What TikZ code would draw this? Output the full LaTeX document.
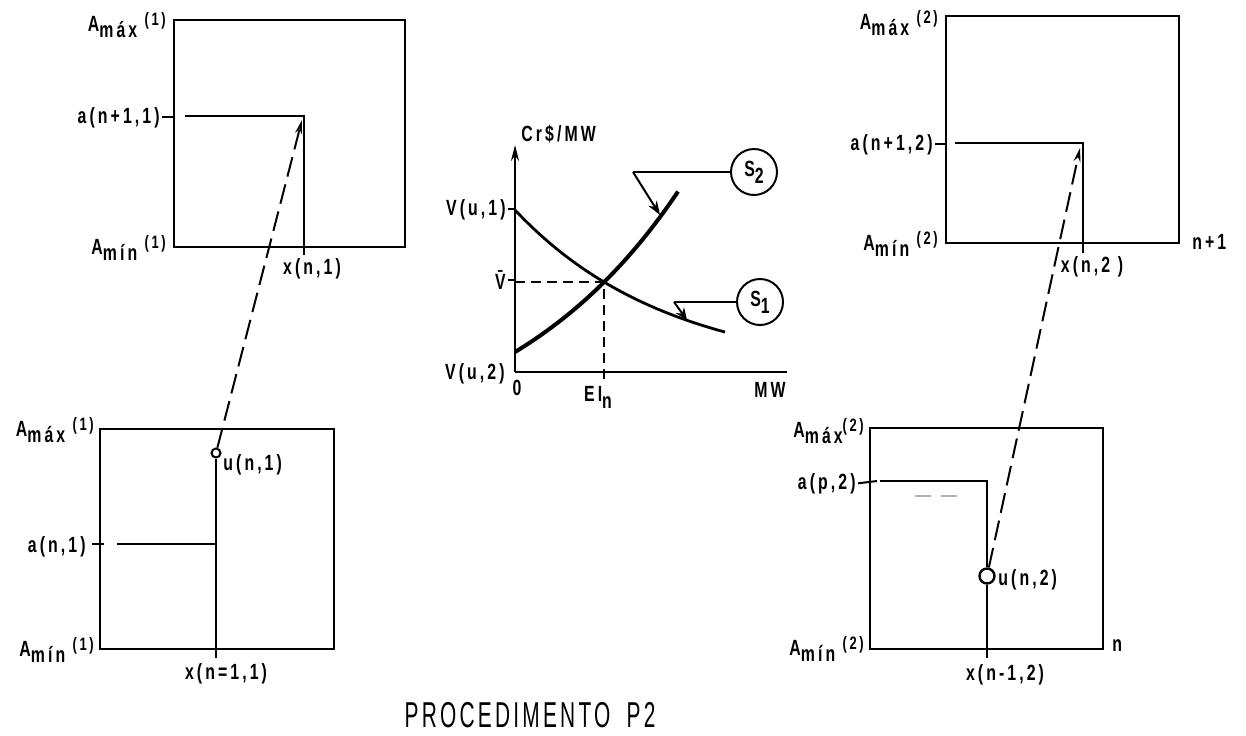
\documentclass[tikz,border=0pt]{standalone}
\usepackage{fontspec}
\setmainfont{Liberation Sans}[FakeStretch=0.72, LetterSpace=14]
\newfontfamily\titlefont{Liberation Sans}[FakeStretch=0.58, LetterSpace=9]
\usetikzlibrary{calc, positioning}
\usetikzlibrary{arrows.meta}
\newcommand{\subtxt}[1]{\raisebox{-0.6ex}{#1}}
\newcommand{\suptxt}[1]{\raisebox{0.45ex}{\small #1}}

\begin{document}
\begin{tikzpicture}[x=0.5pt, y=-0.5pt, font=\bfseries\fontsize{11}{13}\selectfont,
  box/.style={line width=1.2pt},
  ln/.style={line width=1pt},
  jump/.style={line width=1pt, dash pattern=on 10pt off 4pt, -{Stealth[length=7pt, width=3.5pt]}},
  guide/.style={line width=0.9pt, dash pattern=on 5pt off 3pt},
  lab/.style={anchor=base east, inner sep=1pt},
  ring/.style={circle, draw, line width=1pt, inner sep=0pt}]
\useasboundingbox (0,0) rectangle (1246,735);

% caixa (1), estagio n+1
\coordinate (A1) at (174,20);
\coordinate (B1) at (405,247);
\coordinate (H1) at (185,116);
\coordinate (T1) at (304,116);
\coordinate (X1) at (304,255);
\draw[box] (A1) rectangle (B1);
\draw[ln] (H1) -- (T1) -- (X1);
\node[lab] (amax1) at (168,31) {A\subtxt{máx} \suptxt{(1)}};
\node[lab] (anext1) at (162,123) {a(n+1,1)};
\draw[ln] (anext1.east) -- (anext1.east -| A1);
\node[lab] (amin1) at (168,254) {A\subtxt{mín} \suptxt{(1)}};
\node[anchor=north, inner sep=1pt] (xn1) at (312,256) {x(n,1)};

% caixa (1), estagio n
\coordinate (A2) at (100,429);
\coordinate (B2) at (334,649);
\coordinate (H2) at (117,544);
\coordinate (K2) at (216,544);
\coordinate (X2) at (216,658);
\coordinate (tip1) at (302,120);
\draw[box] (A2) rectangle (B2);
\node[ring, minimum size=4.5pt] (u1) at (216,453) {};
\draw[ln] (u1.south) -- (X2);
\draw[ln] (H2) -- (K2);
\draw[jump] (u1) -- (tip1);
\node[lab] (amax2) at (96,436) {A\subtxt{máx} \suptxt{(1)}};
\node[lab] (an1) at (88,552) {a(n,1)};
\draw[ln] (92,544) -- (104,544);
\node[lab] (amin2) at (96,656) {A\subtxt{mín} \suptxt{(1)}};
\node[anchor=base west, inner sep=1pt] (un1) at (221,470) {u(n,1)};
\node[anchor=north, inner sep=1pt] (xm1) at (226,661) {x(n=1,1)};

% grafico central
\coordinate (O) at (515,372);
\coordinate (Yt) at (515,145);
\coordinate (Xt) at (787,372);
\coordinate (E) at (604,282);
\draw[line width=1.1pt, -{Stealth[length=8pt, width=4pt]}] (O) -- (Yt);
\draw[line width=1.1pt] (O) -- (Xt);
\draw[guide] (E -| O) -- (E) -- (604,380);
\draw[line width=1.4pt] plot[domain=0:210, samples=60] ({515+\x}, {373.9-163.9*exp(-0.0065*\x)});
\draw[line width=2pt] plot[domain=0:163, samples=60] ({515+\x}, {462.8-110.8*exp(0.0055*\x)});
\node[anchor=base west, inner sep=1pt] (cr) at (519,141) {Cr\$/MW};
\node[lab] (vu1) at (508,215) {V(u,1)};
\draw[ln] (vu1.east) -- (vu1.east -| O);
\node[lab] (vbar) at (508,289) {\={V}};
\draw[ln] (vbar.east) -- (vbar.east -| O);
\node[lab] (vu2) at (507,379) {V(u,2)};
\node[anchor=north, inner sep=1pt] (zero) at (517,378) {0};
\node[anchor=north, inner sep=1pt] (ein) at (598,384) {EI\subtxt{n}};
\node[anchor=north, inner sep=1pt] (mw) at (770,380) {MW};

\node[ring, minimum size=23pt] (s2) at (754,172) {S\subtxt{2}};
\coordinate (s2k) at (633,172);
\coordinate (s2t) at (660,215);
\draw[ln] (s2.west) -- (s2k);
\draw[ln, -{Stealth[length=7pt, width=5pt]}] (s2k) -- (s2t);
\node[ring, minimum size=23pt] (s1) at (760,302) {S\subtxt{1}};
\coordinate (s1k) at (674,302);
\coordinate (s1t) at (687,320);
\draw[ln] (s1.west) -- (s1k);
\draw[ln, -{Stealth[length=6pt, width=5pt]}] (s1k) -- (s1t);

% caixa (2), estagio n+1
\coordinate (A3) at (946,16);
\coordinate (B3) at (1179,243);
\coordinate (H3) at (955,143);
\coordinate (T3) at (1083,143);
\coordinate (X3) at (1083,253);
\coordinate (tip3) at (1080,148);
\draw[box] (A3) rectangle (B3);
\draw[ln] (H3) -- (T3) -- (X3);
\node[lab] (amax3) at (940,29) {A\subtxt{máx} \suptxt{(2)}};
\node[lab] (anext2) at (935,150) {a(n+1,2)};
\draw[ln] (anext2.east) -- (anext2.east -| A3);
\node[lab] (amin3) at (940,250) {A\subtxt{mín} \suptxt{(2)}};
\node[anchor=base west, inner sep=1pt] (np1) at (1190,249) {n+1};
\node[anchor=north, inner sep=1pt] (xn2) at (1092,254) {x(n,2 )};

% caixa (2), estagio n
\coordinate (A4) at (870,428);
\coordinate (B4) at (1103,649);
\coordinate (H4) at (880,481);
\coordinate (K4) at (987,481);
\coordinate (X4) at (987,658);
\draw[box] (A4) rectangle (B4);
\node[ring, minimum size=7.5pt, line width=1.2pt] (u2) at (987,576) {};
\draw[ln] (H4) -- (K4) -- (u2.north);
\draw[ln] (u2.south) -- (X4);
\draw[line width=0.6pt, gray!60, dash pattern=on 8pt off 5pt] (915,496) -- (965,496);
\draw[jump] (u2) -- (tip3);
\node[lab] (amax4) at (866,437) {A\subtxt{máx}\suptxt{(2)}};
\node[lab] (ap2) at (858,489) {a(p,2)};
\draw[ln] (ap2.east) -- (877,481);
\node[lab] (amin4) at (866,655) {A\subtxt{mín} \suptxt{(2)}};
\node[anchor=base west, inner sep=1pt] (nn) at (1110,651) {n};
\node[anchor=base west, inner sep=1pt] (un2) at (996,585) {u(n,2)};
\node[anchor=north, inner sep=1pt] (xm2) at (1005,662) {x(n-1,2)};

\node[anchor=base, inner sep=0pt, font=\titlefont\fontsize{18}{21}\selectfont] (title) at (530,727) {PROCEDIMENTO\hspace{0.45em}P2};
\end{tikzpicture}
\end{document}
